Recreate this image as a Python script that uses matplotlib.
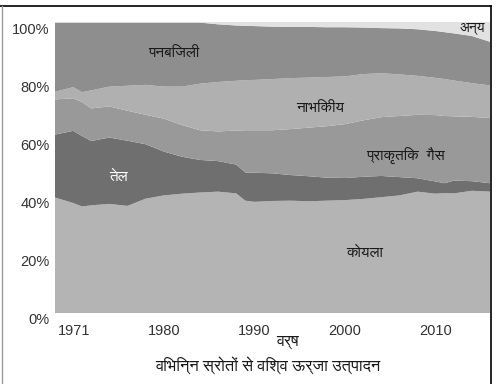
import matplotlib
matplotlib.use("Agg")
import matplotlib.pyplot as plt
from matplotlib import font_manager
from matplotlib.ft2font import FT2Font
from matplotlib.lines import Line2D
from matplotlib.transforms import ScaledTranslation

# share of world production by source (%)
years = [1968, 1970, 1971, 1972, 1974, 1976, 1978, 1980, 1982, 1984, 1986, 1988,
         1989, 1990, 1992, 1994, 1996, 1998, 2000, 2002, 2004, 2006, 2008, 2010,
         2011, 2012, 2014, 2016]
coal = [39.7, 37.8, 36.6, 37.0, 37.5, 36.8, 39.3, 40.4, 41.0, 41.4, 41.7, 41.1,
        38.6, 38.2, 38.5, 38.6, 38.4, 38.6, 38.8, 39.2, 39.8, 40.4, 41.7, 41.0,
        41.2, 41.1, 42.0, 41.7]
oil = [21.6, 24.8, 24.2, 22.1, 22.8, 22.4, 18.7, 15.1, 12.7, 11.2, 10.5, 9.9,
       9.7, 10.0, 9.5, 8.8, 8.6, 7.9, 7.6, 7.6, 7.3, 6.3, 4.6, 4.2,
       3.4, 4.4, 3.3, 2.9]
gas = [12.1, 11.2, 11.7, 11.2, 10.7, 10.3, 10.1, 11.3, 10.9, 10.2, 10.2, 11.7,
       14.5, 14.6, 14.8, 15.8, 16.7, 17.7, 18.5, 19.4, 20.2, 21.0, 21.8, 22.8,
       23.1, 22.1, 22.1, 22.4]
nuclear = [2.6, 3.8, 3.4, 6.2, 6.8, 8.6, 10.3, 11.0, 13.2, 16.0, 17.0, 17.1,
           17.2, 17.3, 17.6, 17.5, 17.2, 16.9, 16.4, 15.9, 15.1, 14.3, 13.4, 12.8,
           12.7, 12.3, 11.6, 11.2]
hydro = [23.8, 22.2, 23.9, 23.3, 22.0, 21.7, 21.4, 22.0, 22.0, 21.0, 19.8, 19.0,
         18.7, 18.5, 18.0, 17.6, 17.4, 17.1, 16.9, 16.0, 15.5, 15.8, 16.0, 16.1,
         16.1, 16.2, 16.2, 15.0]
other = [0.2, 0.2, 0.2, 0.2, 0.2, 0.2, 0.2, 0.2, 0.2, 0.2, 0.8, 1.2,
         1.3, 1.4, 1.6, 1.7, 1.7, 1.8, 1.8, 1.9, 2.1, 2.2, 2.5, 3.1,
         3.5, 3.9, 4.8, 6.8]

source_names = ["कोयला", "तेल", "प्राकृतिक  गैस", "नाभिकीय", "पनबिजली", "अन्य"]
tick_years = [1971, 1980, 1990, 2000, 2010]
y_ticks = [0, 20, 40, 60, 80, 100]


def pick_hindi_font():
    names = {f.name for f in font_manager.fontManager.ttflist}
    for want in ["FreeSans", "Noto Sans Devanagari", "Lohit Devanagari"]:
        if want in names:
            return want
    for f in font_manager.fontManager.ttflist:
        try:
            if ord("क") in FT2Font(f.fname).get_charmap():
                return f.name
        except Exception:
            pass
    return "DejaVu Sans"


hindi = pick_hindi_font()
plt.rcParams["font.family"] = [hindi, "DejaVu Sans"]

fig = plt.figure(figsize=(5, 3.84), dpi=100)
ax = fig.add_axes([55 / 500, 1 - 313 / 384, 435 / 500, 291 / 384])

colors = ["#b4b4b4", "#6f6f6f", "#999999", "#b0b0b0", "#8e8e8e", "#e2e2e2"]
ax.stackplot(years, coal, oil, gas, nuclear, hydro, other, colors=colors,
             linewidth=0)
ax.set_xlim(1968, 2016)
ax.set_ylim(0, 100)

for s in ax.spines.values():
    s.set_visible(False)

num_font = "Liberation Sans"
ax.set_yticks(y_ticks)
ax.set_yticklabels([f"{v}%" for v in y_ticks], fontfamily=num_font,
                   fontsize=10.5, color="#333333")
ax.set_xticks(tick_years)
ax.set_xticklabels([str(v) for v in tick_years], fontfamily=num_font,
                   fontsize=10.5, color="#333333")
ax.tick_params(length=0)
ax.tick_params(axis="y", pad=4)
ax.tick_params(axis="x", pad=8)

# labels sit a bit lower than the gridline values in the original
down = ScaledTranslation(0, -6 / 100, fig.dpi_scale_trans)
for lab in ax.get_yticklabels():
    lab.set_transform(lab.get_transform() + down)
first = ax.get_xticklabels()[0]
first.set_transform(first.get_transform() + ScaledTranslation(-8 / 100, 0, fig.dpi_scale_trans))

# names on the areas
kw = dict(fontsize=11, ha="center", va="center", color="#1a1a1a")
ax.text(2002.2, 20.6, source_names[0], **kw)
ax.text(1975.0, 46.7, source_names[1], fontsize=11, ha="center", va="center", color="white")
ax.text(2006.7, 54.3, source_names[2], **kw)
ax.text(1997.2, 70.4, source_names[3], **kw)
ax.text(1981.1, 89.3, source_names[4], **kw)
ax.text(2014.1, 97.8, source_names[5], fontsize=10, ha="center", va="center", color="#1a1a1a")

fig.text(287 / 500, 1 - 342 / 384, "वर्ष", fontsize=11.5, ha="center", va="center", color="#1a1a1a")
fig.text(268 / 500, 1 - 367 / 384, "विभिन्न स्रोतों से विश्व ऊर्जा उत्पादन", fontsize=11.8,
         ha="center", va="center", color="#1a1a1a")

# frame around the picture
fig.add_artist(Line2D([0, 491 / 500], [1 - 6 / 384] * 2, color="black", lw=1.2))
fig.add_artist(Line2D([2 / 500] * 2, [0, 1 - 6 / 384], color="#999999", lw=1.0))
fig.add_artist(Line2D([491 / 500] * 2, [0, 1 - 6 / 384], color="black", lw=1.2))

fig.savefig("out.png", dpi=100)
